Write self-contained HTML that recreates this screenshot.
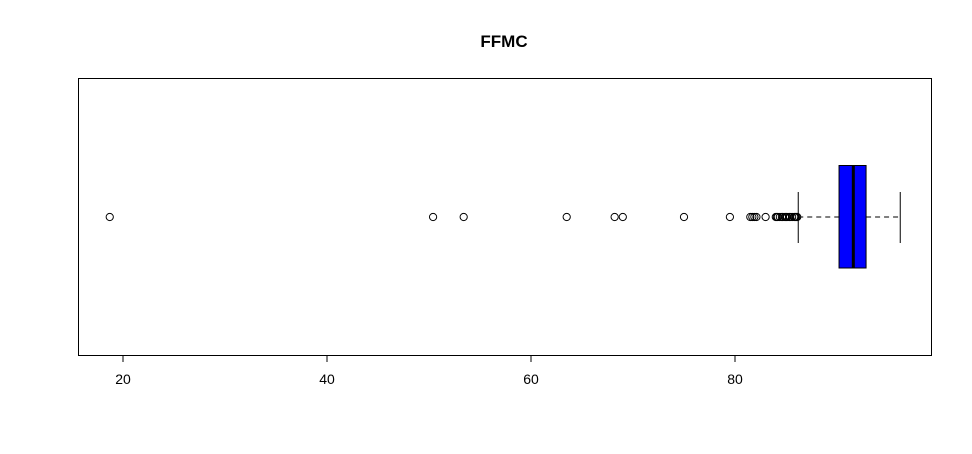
<!DOCTYPE html>
<html><head><meta charset="utf-8"><style>
body{margin:0;background:#fff;}
svg{display:block;font-family:"Liberation Sans",Arial,sans-serif;}
</style></head><body>
<svg width="972" height="454">
<text x="504" y="47" text-anchor="middle" font-size="17" font-weight="bold">FFMC</text>
<rect x="78.5" y="78.5" width="853" height="277" fill="none" stroke="#000"/>
<g id="axis"></g>
<g id="box"></g>
<g id="outl"></g>
</svg>
<script>
const ticks=[20,40,60,80];
const stats=[86.2,90.2,91.6,92.85,96.2];
const outliers=[18.7,50.4,53.4,63.5,68.2,69.0,75.0,79.5,81.5,81.7,81.9,82.1,83.0,84.0,84.1,84.2,84.4,84.6,84.7,84.9,85.0,85.1,85.3,85.4,85.6,85.8,85.9,86.0,86.1];
const NS='http://www.w3.org/2000/svg';
const x=v=>123+(v-20)*10.2;
const cy=217;
function mk(t,a,p){const e=document.createElementNS(NS,t);for(const k in a)e.setAttribute(k,a[k]);p.appendChild(e);return e;}
const ax=document.getElementById('axis');
mk('line',{x1:x(20),x2:x(80),y1:355.5,y2:355.5,stroke:'#000'},ax);
ticks.forEach(t=>{
 const l=mk('line',{x1:x(t),x2:x(t),y1:355,y2:362,stroke:'#000'},ax);
 
 
 const tx=mk('text',{x:x(t),y:384,'text-anchor':'middle','font-size':14},ax);
 tx.textContent=t;
 
 
});
const b=document.getElementById('box');
mk('line',{x1:x(stats[0]),x2:x(stats[1]),y1:cy,y2:cy,stroke:'#000','stroke-dasharray':'5,4'},b);
mk('line',{x1:x(stats[3]),x2:x(stats[4]),y1:cy,y2:cy,stroke:'#000','stroke-dasharray':'5,4'},b);
[stats[0],stats[4]].forEach(v=>{const w=mk('line',{x1:x(v),x2:x(v),y1:192,y2:243,stroke:'#000'},b);
 
 });
const r=mk('rect',{x:x(stats[1]),y:165.5,width:x(stats[3])-x(stats[1]),height:102.5,fill:'#0000ff',stroke:'#000'},b);


const m=mk('line',{x1:x(stats[2]),x2:x(stats[2]),y1:165.5,y2:268,stroke:'#000','stroke-width':3},b);


const o=document.getElementById('outl');
outliers.forEach(v=>{const c=mk('circle',{cx:x(v),cy:cy,r:3.6,fill:'none',stroke:'#000','stroke-width':1},o);
 
 });
</script>
</body></html>
